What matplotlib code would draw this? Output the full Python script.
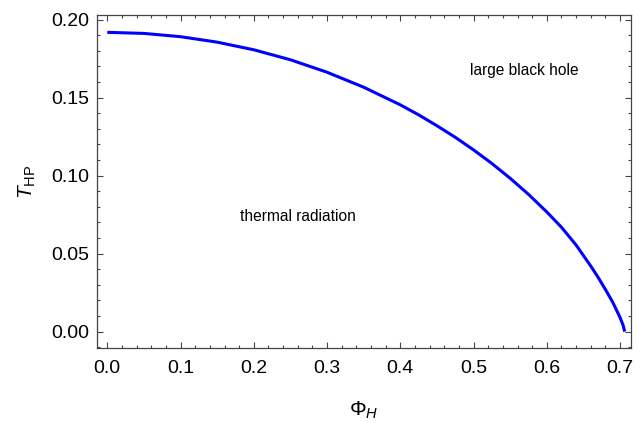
import numpy as np
import matplotlib
matplotlib.use('Agg')
import matplotlib.pyplot as plt
from matplotlib.ticker import MultipleLocator

plt.rcParams['font.family'] = ['Liberation Sans', 'DejaVu Sans']
plt.rcParams['mathtext.fontset'] = 'custom'
plt.rcParams['mathtext.rm'] = 'Liberation Sans'
plt.rcParams['mathtext.it'] = 'Liberation Sans:italic'

# Hawking-Page temperature
phi_h = [0.00, 0.05, 0.10, 0.15, 0.20, 0.25, 0.30, 0.35, 0.40, 0.425,
         0.45, 0.475, 0.50, 0.525, 0.55, 0.575, 0.60, 0.62, 0.64, 0.66,
         0.67, 0.68, 0.69, 0.70, 0.704, 0.7063]
t_hp = [0.1919, 0.1912, 0.1891, 0.1856, 0.1807, 0.1743, 0.1663, 0.1567,
        0.1454, 0.1390, 0.1320, 0.1246, 0.1165, 0.1078, 0.0983, 0.0880,
        0.0767, 0.0669, 0.0555, 0.0420, 0.0348, 0.0270, 0.0188, 0.0090,
        0.0042, 0.0]

region_labels = ['thermal radiation', 'large black hole']
region_pos = [(0.260, 0.0735), (0.5686, 0.1677)]

fig = plt.figure(figsize=(6.42, 4.23), dpi=100)
ax = fig.add_axes([0.1506, 0.178, 0.8324, 0.7854])

ax.plot(phi_h, t_hp, color='#0000ff', lw=2.2, solid_capstyle='butt')

for txt, (x, y) in zip(region_labels, region_pos):
    ax.text(x, y, txt, ha='center', va='center', fontsize=11.2)

ax.set_xlim(-0.0145, 0.715)
ax.set_ylim(-0.0103, 0.2027)
ax.xaxis.set_major_locator(MultipleLocator(0.1))
ax.xaxis.set_minor_locator(MultipleLocator(0.02))
ax.yaxis.set_major_locator(MultipleLocator(0.05))
ax.yaxis.set_minor_locator(MultipleLocator(0.01))
ax.xaxis.set_major_formatter(lambda v, p: f'{v:.1f}')
ax.yaxis.set_major_formatter(lambda v, p: f'{v:.2f}')

ax.tick_params(which='both', direction='in', top=True, right=True,
               color='#444444', labelsize=14, width=0.8)
ax.tick_params(which='major', length=4.3, pad=5)
ax.tick_params(which='minor', length=2.4)
ax.tick_params(axis='x', which='major', pad=9)
for s in ax.spines.values():
    s.set_color('#444444')
    s.set_linewidth(0.9)

ax.set_xlabel(r'$\Phi_{H}$', fontsize=15, labelpad=16)
ax.set_ylabel(r'$T_{\mathrm{HP}}$', fontsize=15, labelpad=10)

fig.savefig('out.png', dpi=100)
